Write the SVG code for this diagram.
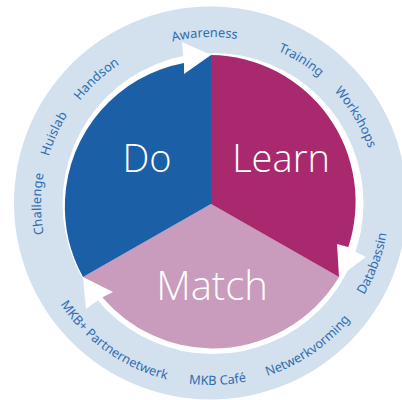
<svg xmlns="http://www.w3.org/2000/svg" width="402" height="400" viewBox="0 0 402 400">
<style>
.big{font-family:"Open Sans","Noto Sans",sans-serif;font-weight:300;font-size:38px;fill:#fff;text-anchor:middle}
.lbl{font-family:"Noto Sans","Open Sans",sans-serif;font-size:12.800px;fill:#2f6cb0;text-anchor:middle}
.arrow{fill:#fff}
</style>
<defs>
<path id="cw" d="M211 371A167 167 0 1 1 211 37A167 167 0 1 1 211 371"/>
<path id="ccw" d="M211 23A181 181 0 1 0 211 385A181 181 0 1 0 211 23"/>
</defs>
<rect width="402" height="400" fill="#fff"/>
<path id="ring" fill="#d3e0ee" fill-rule="evenodd" d="M14 203A196.500 196.500 0 1 1 407 203A196.500 196.500 0 1 1 14 203ZM62.500 203.500A150.500 150.500 0 1 0 363.500 203.500A150.500 150.500 0 1 0 62.500 203.500Z"/>
<g id="match"><path fill="#c99bbc" d="M211 204L339 277A148 148 0 0 1 211 348.500A145 145 0 0 1 103 298L83 277Z"/><text class="big" x="212" y="300" style="font-size:40px">Match</text></g>
<g id="do"><path fill="#1b5fa6" d="M211 204L83 277A146 146 0 0 1 65 200A146 146 0 0 1 184 63L211 55Z"/><text class="big" x="147" y="172">Do</text></g>
<g id="learn"><path fill="#a9296f" d="M211 204V55A146.500 146.500 0 0 1 348 248L339 277Z"/><text class="big" x="281" y="172">Learn</text></g>
<g id="connectors">
<polygon class="arrow" points="211,55 182,42 183,53 184,63 184,74"/>
<polygon class="arrow" points="339,277 337,244 348,247 358,253 366,257"/>
<polygon class="arrow" points="83,277 113,292 103,297 94,303 86,309"/>
</g>
<g id="labels">
<g id="l-awareness"><text class="lbl"><textPath href="#cw" startOffset="49.400%">Awareness</textPath></text></g>
<g id="l-training"><text class="lbl"><textPath href="#cw" startOffset="58.900%">Training</textPath></text></g>
<g id="l-workshops"><text class="lbl"><textPath href="#cw" startOffset="66.400%">Workshops</textPath></text></g>
<g id="l-handson"><text class="lbl"><textPath href="#cw" startOffset="38.200%">Handson</textPath></text></g>
<g id="l-huislab"><text class="lbl" dy="-2"><textPath href="#cw" startOffset="31.700%">Huislab</textPath></text></g>
<g id="l-challenge"><text class="lbl" dy="-3"><textPath href="#cw" startOffset="25%">Challenge</textPath></text></g>
<g id="l-databassin"><text class="lbl" dy="-3"><textPath href="#ccw" startOffset="69.400%">Databassin</textPath></text></g>
<g id="l-netwerkvorming"><text class="lbl"><textPath href="#ccw" startOffset="59.500%">Netwerkvorming</textPath></text></g>
<g id="l-cafe"><text class="lbl"><textPath href="#ccw" startOffset="50.600%">MKB Café</textPath></text></g>
<g id="l-partner"><text class="lbl"><textPath href="#ccw" startOffset="40.200%">MKB+ Partnernetwerk</textPath></text></g>
</g>
</svg>
